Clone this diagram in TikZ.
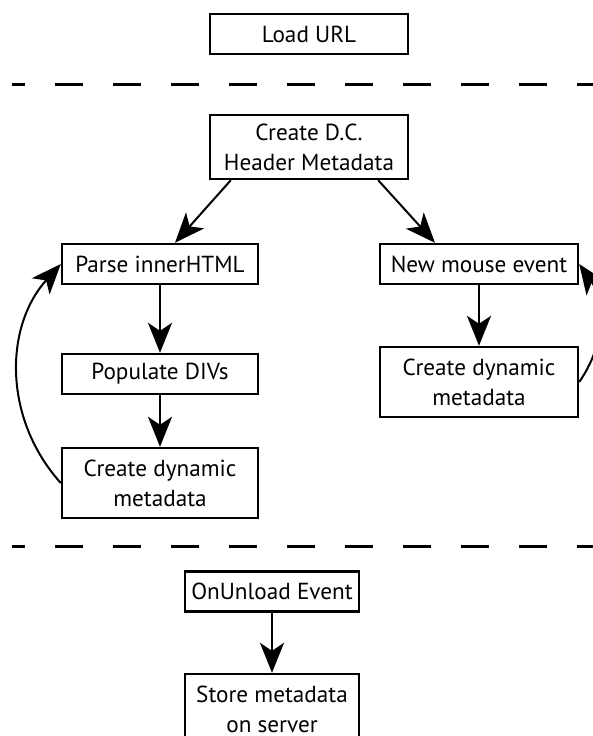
\documentclass[tikz,border=0pt]{standalone}
\usepackage{fontspec}
\setmainfont{PT Sans}
\usetikzlibrary{positioning}
\usetikzlibrary{arrows.meta}

\begin{document}
\begin{tikzpicture}[->, >={Stealth[length=15pt,width=12pt,inset=4pt]}, line width=1pt, node distance=55pt]
\tikzstyle{box}=[draw=black, line width=1.2pt, minimum width=99pt, minimum height=20pt, inner sep=0pt, align=center, font=\fontsize{11.6}{15}\selectfont]
\tikzstyle{sep}=[-, line width=1.5pt, dash pattern=on 14pt off 15pt, dash phase=7.5pt]
\useasboundingbox (0,0) rectangle (296.5pt,-368pt);

\node[box]   (1) at (154.5pt,-17pt) {Load URL};
\node[box, minimum height=32pt]   (2)[node distance=56.5pt, below of = 1] {Create D.C.\\Header Metadata};
\node[box, minimum width=98pt]   (3) at (80pt,-132pt) {Parse innerHTML};
\node[box, minimum width=98pt]   (4)[below of = 3] {Populate DIVs};
\node[box, minimum width=98pt, minimum height=35pt]   (5)[node distance=54.5pt, below of = 4] {Create dynamic\\metadata};
\node[box]   (6)[node distance=159.5pt, right of = 3] {New mouse event};
\node[box, minimum height=35pt]   (7)[node distance=59pt, below of = 6] {Create dynamic\\metadata};
\node[box, minimum width=87pt]   (8) at (136pt,-295.75pt) {OnUnload Event};
\node[box, minimum width=87pt, minimum height=35pt]   (9)[node distance=58.75pt, below of = 8] {Store metadata\\on server};

% separators
\draw[sep] (6pt,-42pt) -- (296.5pt,-42pt);
\draw[sep] (6pt,-273pt) -- (296.5pt,-273pt);

\path
([xshift=11pt]2.south west) edge ([xshift=7.5pt]3.north)
([xshift=-15.5pt]2.south east) edge ([xshift=-22pt]6.north)
(3) edge (4)
(4) edge (5)
(5.west) edge[bend left=42] (3.west)
(6) edge (7)
(7.east) edge[bend right=35] (6.east)
(8) edge (9)
;
\end{tikzpicture}
\end{document}
